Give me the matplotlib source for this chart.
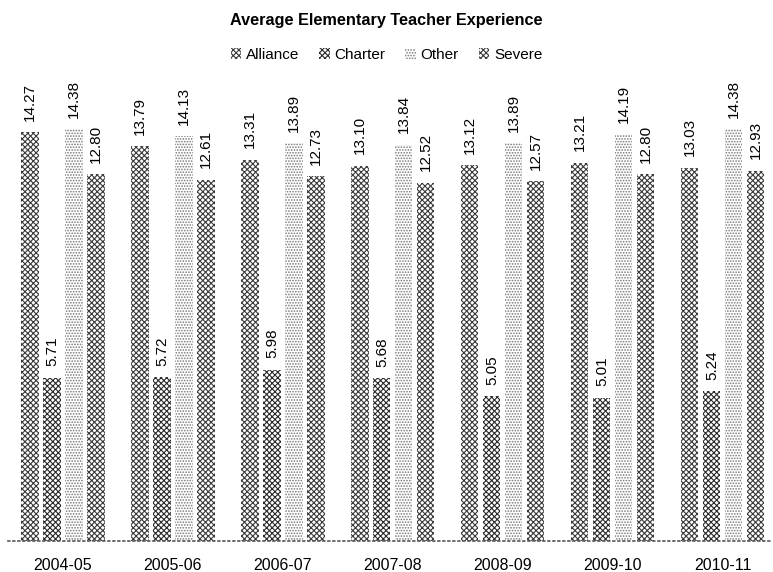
import matplotlib
matplotlib.use("Agg")
import matplotlib.pyplot as plt
import numpy as np

plt.rcParams['font.family'] = ['Liberation Sans', 'DejaVu Sans']
plt.rcParams['hatch.linewidth'] = 0.8

years = ["2004-05", "2005-06", "2006-07", "2007-08", "2008-09", "2009-10", "2010-11"]
series = ["Alliance", "Charter", "Other", "Severe"]
alliance = [14.27, 13.79, 13.31, 13.10, 13.12, 13.21, 13.03]
charter = [5.71, 5.72, 5.98, 5.68, 5.05, 5.01, 5.24]
other = [14.38, 14.13, 13.89, 13.84, 13.89, 14.19, 14.38]
severe = [12.80, 12.61, 12.73, 12.52, 12.57, 12.80, 12.93]
values = [alliance, charter, other, severe]
hatches = ["xxxxxx", "xxxxxx", "......", "xxxxxx"]
hcolors = ["#3a3a3a", "#2a2a2a", "#777777", "#3a3a3a"]

fig = plt.figure(figsize=(7.73, 5.72), dpi=100)
ax = fig.add_axes([8/773, 31/572, 765/773, (541-80)/572])

x = np.arange(len(years))
offsets = [-0.3, -0.1, 0.1, 0.3]
width = 0.155
handles = []
for vals, off, h, hc, name in zip(values, offsets, hatches, hcolors, series):
    bars = ax.bar(x + off, vals, width, facecolor='white', edgecolor=hc,
                  hatch=h, linewidth=0, label=name)
    handles.append(bars)
    for b, v in zip(bars, vals):
        ax.text(b.get_x() + b.get_width()/2, v + 0.4, f"{v:.2f}", rotation=90,
                ha='center', va='bottom', fontsize=11)

ax.set_xlim(-0.5, 6.455)
ax.set_ylim(0, 16.1)
ax.set_xticks(x)
ax.set_xticklabels(years, fontsize=11.5)
ax.tick_params(axis='x', length=0, pad=12)
ax.set_yticks([])
for s in ['top', 'right', 'left']:
    ax.spines[s].set_visible(False)
ax.spines['bottom'].set_linestyle((0, (1, 2)))
ax.spines['bottom'].set_color('#555555')
ax.spines['bottom'].set_linewidth(1.2)

fig.text(0.5, 1 - 20/572, "Average Elementary Teacher Experience", ha='center', va='center',
         fontsize=11.7, fontweight='bold')
fig.legend(handles=handles, labels=series, loc='center', bbox_to_anchor=(0.5, 1 - 55/572),
           ncol=4, frameon=False, fontsize=11, handlelength=0.7, handleheight=0.7,
           handletextpad=0.3, columnspacing=1.3)

fig.savefig("out.png", dpi=100)
